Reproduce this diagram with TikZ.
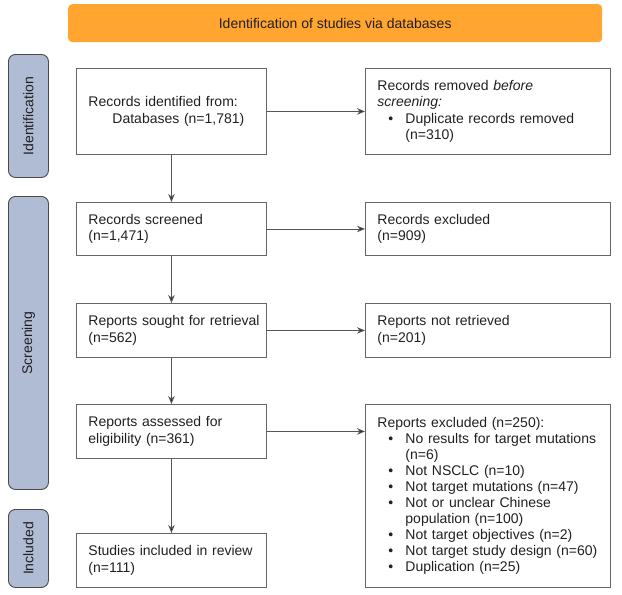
\documentclass[tikz,border=0pt]{standalone}
\usepackage{fontspec}
\setmainfont{Liberation Sans}
\usetikzlibrary{arrows.meta}
\definecolor{bannerorange}{HTML}{FFA530}
\definecolor{barfill}{HTML}{B0BCD4}
\definecolor{bardraw}{HTML}{4A4A4A}
\definecolor{boxdraw}{HTML}{666666}
\definecolor{linecol}{HTML}{555555}
\definecolor{txt}{HTML}{231F20}
\newcommand{\bul}{\makebox[28pt][l]{\hspace{11pt}\textbullet}}
\newcommand{\bulind}{\hspace*{28pt}}
\hfuzz=200pt
\begin{document}
\begin{tikzpicture}[x=1pt,y=-1pt,
  font=\fontsize{14}{16.5}\selectfont, text=txt,
  banner/.style={fill=bannerorange, draw=none, rounded corners=4pt, anchor=north west,
    minimum width=534pt, minimum height=38pt, inner sep=0pt},
  phase/.style={fill=barfill, draw=bardraw, line width=0.9pt, rounded corners=7pt, anchor=north west,
    minimum width=40pt, inner sep=0pt},
  phaselabel/.style={rotate=90},
  lbox/.style={draw=boxdraw, line width=0.9pt, anchor=north west, minimum width=190pt,
    text width=166pt, inner xsep=12pt, inner ysep=0pt, align=left},
  rbox/.style={draw=boxdraw, line width=0.9pt, anchor=north west, minimum width=245pt,
    text width=221pt, inner xsep=12pt, inner ysep=0pt, align=left},
  arr/.style={draw=linecol, line width=0.9pt, -{Stealth[length=8pt,width=6.5pt,inset=2.5pt,fill=txt]}}
]
\useasboundingbox (0,0) rectangle (622,595);

% banner
\node[banner] (ban) at (68,4) {Identification of studies via databases};

% phase bars
\node[phase, minimum height=123pt] (pid) at (8,54) {};
\node[phaselabel] (pidl) at (pid.center) {Identification};
\node[phase, minimum height=293pt] (psc) at (8,196) {};
\node[phaselabel] (pscl) at (psc.center) {Screening};
\node[phase, minimum height=78pt] (pin) at (8,509) {};
\node[phaselabel] (pinl) at (pin.center) {Included};

% left column
\node[lbox, minimum height=86pt] (b1) at (76,68)
  {\baselineskip=17.5pt \mbox{Records identified from:}\\\hspace*{24pt}\mbox{Databases (n=1,781)}};
\node[lbox, minimum height=53pt] (b2) at (76,202)
  {\mbox{Records screened}\\(n=1,471)};
\node[lbox, minimum height=54pt] (b3) at (76,303)
  {\mbox{Reports sought for retrieval}\\(n=562)};
\node[lbox, minimum height=54pt] (b4) at (76,404)
  {\mbox{Reports assessed for}\\\mbox{eligibility (n=361)}};
\node[lbox, minimum height=54pt] (b5) at (76,533)
  {\mbox{Studies included in review}\\(n=111)};

% right column
\node[rbox, minimum height=86pt] (r1) at (365,68)
  {\mbox{Records removed \textit{before}}\\\textit{screening:}\\\bul\mbox{Duplicate records removed}\\\bulind(n=310)};
\node[rbox, minimum height=53pt] (r2) at (365,202)
  {\mbox{Records excluded}\\(n=909)};
\node[rbox, minimum height=54pt] (r3) at (365,303)
  {\mbox{Reports not retrieved}\\(n=201)};
\node[rbox, minimum height=183pt] (r4) at (365,404)
  {\baselineskip=16pt \mbox{Reports excluded (n=250):}\\
   \bul\mbox{No results for target mutations}\\
   \bulind(n=6)\\
   \bul\mbox{Not NSCLC (n=10)}\\
   \bul\mbox{Not target mutations (n=47)}\\
   \bul\mbox{Not or unclear Chinese}\\
   \bulind\mbox{population (n=100)}\\
   \bul\mbox{Not target objectives (n=2)}\\
   \bul\mbox{Not target study design (n=60)}\\
   \bul\mbox{Duplication (n=25)}};

% connectors
\draw[arr] (b1) -- (b2);
\draw[arr] (b2) -- (b3);
\draw[arr] (b3) -- (b4);
\draw[arr] (b4) -- (b5);
\draw[arr] (b1) -- (r1);
\draw[arr] (b2) -- (r2);
\draw[arr] (b3) -- (r3);
\draw[arr] (b4.east) -- (r4.west |- b4.east);
\end{tikzpicture}
\end{document}
